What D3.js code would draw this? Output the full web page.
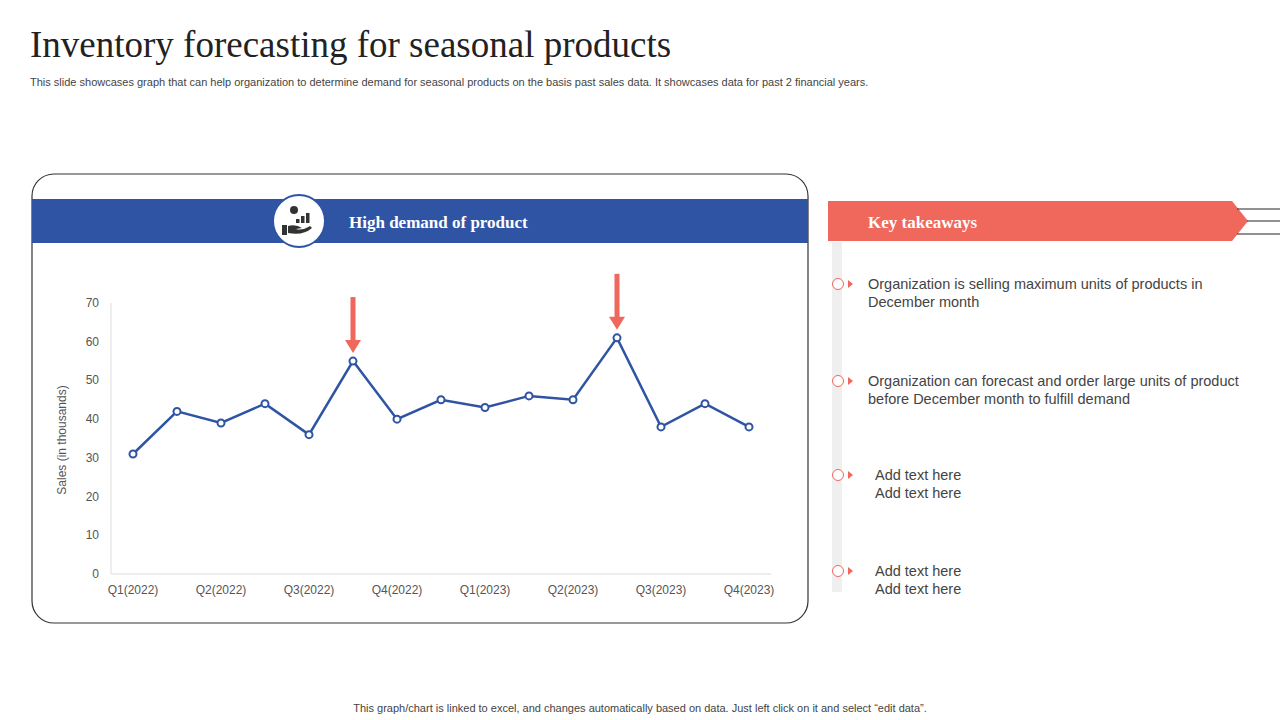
<!DOCTYPE html>
<html><head><meta charset="utf-8">
<script src="https://cdn.jsdelivr.net/npm/d3@7"></script>
<style>body{margin:0;background:#fff}svg{display:block}</style>
</head><body>
<svg id="c" width="1280" height="720"></svg>
<script>
// 图表数据
const categories = ["Q1(2022)","a","Q2(2022)","b","Q3(2022)","c","Q4(2022)","d","Q1(2023)","e","Q2(2023)","f","Q3(2023)","g","Q4(2023)"];
const sales = [31, 42, 39, 44, 36, 55, 40, 45, 43, 46, 45, 61, 38, 44, 38];
const highlights = ["c", "f"];
const yTicks = [0, 10, 20, 30, 40, 50, 60, 70];
const takeaways = [
  ["Organization is selling maximum units of products in", "December month"],
  ["Organization can forecast and order large units of product", "before December month to fulfill demand"],
  ["Add text here", "Add text here"],
  ["Add text here", "Add text here"]
];

const BLUE = "#2f54a3", RED = "#f0675c", SERIF = "Liberation Serif, serif", SANS = "Liberation Sans, Arial, sans-serif";
const svg = d3.select("#c");

svg.append("text").attr("x", 30).attr("y", 57).attr("font-family", SERIF).attr("font-size", 37).attr("fill", "#222")
  .text("Inventory forecasting for seasonal products");
svg.append("text").attr("x", 30).attr("y", 86).attr("font-family", SANS).attr("font-size", 11).attr("fill", "#444")
  .text("This slide showcases graph that can help organization to determine demand for seasonal products on the basis past sales data. It showcases data for past 2 financial years.");
svg.append("text").attr("x", 640).attr("y", 712).attr("text-anchor", "middle").attr("font-family", SANS).attr("font-size", 11).attr("fill", "#444")
  .text("This graph/chart is linked to excel,  and changes automatically based on data. Just left click on it and select \u201cedit data\u201d.");

// 左侧面板
svg.append("rect").attr("x", 32).attr("y", 174).attr("width", 776).attr("height", 449).attr("rx", 22)
  .attr("fill", "#fff").attr("stroke", "#333").attr("stroke-width", 1.2);
svg.append("rect").attr("x", 32).attr("y", 199).attr("width", 776).attr("height", 44).attr("fill", BLUE);
svg.append("circle").attr("cx", 299).attr("cy", 221).attr("r", 26).attr("fill", "#fff").attr("stroke", BLUE).attr("stroke-width", 2);
const ic = svg.append("g").attr("transform", "translate(299,221)").attr("fill", "#333");
[[-3, 4, 4], [2, 7, 7], [7, 10, 10]].forEach(([x, y0, h]) => ic.append("rect").attr("x", x).attr("y", 2 - h).attr("width", 3.5).attr("height", h));
ic.append("circle").attr("cx", -5).attr("cy", -11).attr("r", 4);
ic.append("path").attr("d", "M-17,4 h5 v10 h-5z M-11,5 q8,-2 14,2 l-6,1 q6,2 14,-3 l2,2 q-9,8 -24,5z");
svg.append("text").attr("x", 349).attr("y", 228).attr("font-family", SERIF).attr("font-weight", "bold").attr("font-size", 17).attr("fill", "#fff")
  .text("High demand of product");

// 折线图
const x = d3.scaleBand().domain(categories).range([111, 771]);
const y = d3.scaleLinear().domain([0, 70]).range([574, 303]);
const cx = (d) => x(d) + x.bandwidth() / 2;
svg.append("line").attr("x1", 111).attr("x2", 111).attr("y1", 303).attr("y2", 574).attr("stroke", "#ddd");
svg.append("line").attr("x1", 111).attr("x2", 771).attr("y1", 574).attr("y2", 574).attr("stroke", "#ddd");
svg.selectAll(".yt").data(yTicks).join("text").attr("x", 99).attr("y", (d) => y(d) + 4).attr("text-anchor", "end")
  .attr("font-family", SANS).attr("font-size", 12).attr("fill", "#555").text((d) => d);
svg.selectAll(".xt").data(categories.filter((d, i) => i % 2 === 0)).join("text").attr("x", cx).attr("y", 594).attr("text-anchor", "middle")
  .attr("font-family", SANS).attr("font-size", 12).attr("fill", "#555").text((d) => d);
svg.append("text").attr("transform", "translate(66,440) rotate(-90)").attr("text-anchor", "middle")
  .attr("font-family", SANS).attr("font-size", 12).attr("fill", "#555").text("Sales (in thousands)");
const pts = categories.map((c, i) => ({ c, v: sales[i] }));
svg.append("path").datum(pts).attr("fill", "none").attr("stroke", BLUE).attr("stroke-width", 2.5)
  .attr("d", d3.line().x((d) => cx(d.c)).y((d) => y(d.v)));
svg.selectAll(".pt").data(pts).join("circle").attr("cx", (d) => cx(d.c)).attr("cy", (d) => y(d.v)).attr("r", 3.5)
  .attr("fill", "#fff").attr("stroke", BLUE).attr("stroke-width", 2);
pts.filter((d) => highlights.includes(d.c)).forEach((d) => {
  const px = cx(d.c), top = y(d.v) - 64, tip = y(d.v) - 8;
  svg.append("rect").attr("x", px - 2.5).attr("y", top).attr("width", 5).attr("height", tip - top - 12).attr("fill", RED);
  svg.append("path").attr("d", `M${px - 8},${tip - 13} L${px + 8},${tip - 13} L${px},${tip} Z`).attr("fill", RED);
});

// 右侧要点
svg.append("rect").attr("x", 832).attr("y", 242).attr("width", 10).attr("height", 350).attr("fill", "#efefef");
svg.append("path").attr("d", "M828,201 H1232 L1248,221 L1232,241 H828 Z").attr("fill", RED);
[209, 221, 234].forEach((ly, i) => svg.append("line").attr("x1", i === 1 ? 1247 : 1237).attr("x2", 1280).attr("y1", ly).attr("y2", ly).attr("stroke", "#222"));
svg.append("text").attr("x", 868).attr("y", 228).attr("font-family", SERIF).attr("font-weight", "bold").attr("font-size", 17).attr("fill", "#fff").text("Key takeaways");
const rowY = [284, 381, 475, 571];
takeaways.forEach((t, i) => {
  const yy = rowY[i], tx = i < 2 ? 868 : 875;
  svg.append("circle").attr("cx", 838).attr("cy", yy).attr("r", 5.5).attr("fill", "#fff").attr("stroke", RED).attr("stroke-width", 1);
  svg.append("path").attr("d", `M848,${yy - 4} L853,${yy} L848,${yy + 4} Z`).attr("fill", RED);
  t.forEach((s, j) => svg.append("text").attr("x", tx).attr("y", yy + 5 + j * 18).attr("font-family", SANS).attr("font-size", 14.5).attr("fill", "#444").text(s));
});
</script>
</body></html>
